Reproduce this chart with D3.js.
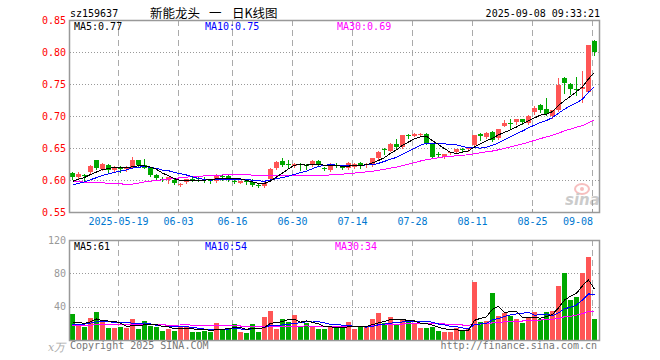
<!DOCTYPE html>
<html>
<head>
<meta charset="utf-8">
<script src="https://cdn.jsdelivr.net/npm/d3@7"></script>
<style>
body { margin: 0; background: #fff; }
text { font-family: "DejaVu Sans Mono", monospace; font-size: 10px; }
</style>
</head>
<body>
<script>
var dates = ["05-07","05-08","05-09","05-12","05-13","05-14","05-15","05-16","05-19","05-20",
  "05-21","05-22","05-23","05-26","05-27","05-28","05-29","05-30","06-03","06-04",
  "06-05","06-06","06-09","06-10","06-11","06-12","06-13","06-16","06-17","06-18",
  "06-19","06-20","06-23","06-24","06-25","06-26","06-27","06-30","07-01","07-02",
  "07-03","07-04","07-07","07-08","07-09","07-10","07-11","07-14","07-15","07-16",
  "07-17","07-18","07-21","07-22","07-23","07-24","07-25","07-28","07-29","07-30",
  "07-31","08-01","08-04","08-05","08-06","08-07","08-08","08-11","08-12","08-13",
  "08-14","08-15","08-18","08-19","08-20","08-21","08-22","08-25","08-26","08-27",
  "08-28","08-29","09-01","09-02","09-03","09-04","09-05","09-08"];

var open = [0.611,0.604,0.608,0.612,0.631,0.617,0.624,0.615,0.620,0.617,
  0.619,0.631,0.624,0.619,0.608,0.602,0.600,0.600,0.592,0.597,
  0.602,0.603,0.602,0.601,0.598,0.606,0.607,0.598,0.596,0.598,
  0.597,0.592,0.590,0.602,0.618,0.630,0.625,0.622,0.625,0.624,
  0.623,0.630,0.619,0.615,0.624,0.622,0.618,0.620,0.626,0.624,
  0.623,0.634,0.649,0.646,0.657,0.651,0.671,0.669,0.670,0.672,
  0.657,0.641,0.636,0.642,0.643,0.648,0.648,0.654,0.672,0.667,
  0.675,0.665,0.685,0.689,0.690,0.695,0.689,0.707,0.717,0.711,
  0.700,0.709,0.760,0.750,0.742,0.742,0.738,0.817];

var high = [0.613,0.612,0.609,0.623,0.632,0.626,0.625,0.622,0.622,0.622,
  0.636,0.632,0.633,0.620,0.609,0.604,0.605,0.601,0.595,0.602,
  0.605,0.604,0.605,0.602,0.610,0.609,0.608,0.600,0.599,0.601,
  0.602,0.593,0.597,0.618,0.630,0.635,0.631,0.626,0.626,0.625,
  0.632,0.631,0.621,0.626,0.627,0.623,0.628,0.626,0.628,0.626,
  0.635,0.645,0.650,0.658,0.664,0.671,0.672,0.673,0.674,0.674,
  0.658,0.643,0.641,0.644,0.649,0.650,0.651,0.671,0.673,0.675,
  0.676,0.680,0.693,0.695,0.696,0.696,0.701,0.715,0.718,0.728,
  0.710,0.759,0.761,0.752,0.761,0.771,0.811,0.818];

var low = [0.602,0.603,0.600,0.611,0.617,0.615,0.613,0.613,0.612,0.614,
  0.618,0.622,0.618,0.607,0.602,0.598,0.595,0.594,0.590,0.596,
  0.599,0.598,0.597,0.596,0.597,0.600,0.598,0.596,0.595,0.594,
  0.591,0.589,0.589,0.601,0.617,0.622,0.619,0.620,0.616,0.617,
  0.622,0.622,0.615,0.614,0.620,0.617,0.617,0.619,0.619,0.620,
  0.622,0.633,0.641,0.645,0.650,0.650,0.666,0.668,0.669,0.656,
  0.635,0.637,0.634,0.641,0.642,0.644,0.645,0.651,0.662,0.666,
  0.661,0.664,0.684,0.682,0.688,0.688,0.688,0.703,0.706,0.702,
  0.697,0.708,0.736,0.735,0.733,0.722,0.737,0.796];

var close = [0.604,0.610,0.607,0.622,0.619,0.625,0.615,0.620,0.617,0.620,
  0.631,0.623,0.619,0.608,0.603,0.600,0.604,0.595,0.594,0.601,
  0.601,0.602,0.601,0.598,0.607,0.605,0.601,0.597,0.598,0.597,
  0.592,0.590,0.596,0.617,0.628,0.623,0.623,0.625,0.623,0.622,
  0.630,0.623,0.617,0.624,0.623,0.618,0.626,0.625,0.624,0.625,
  0.634,0.644,0.648,0.657,0.652,0.670,0.670,0.672,0.672,0.657,
  0.636,0.640,0.640,0.643,0.648,0.647,0.650,0.670,0.668,0.673,
  0.663,0.679,0.689,0.688,0.695,0.690,0.700,0.712,0.710,0.703,
  0.709,0.748,0.751,0.742,0.741,0.745,0.811,0.800];

// volume in 万手
var volume = [31.2,18,16,26.8,34,22,14.8,14.8,16,14.8,
  24.8,13.6,23.2,16.8,15.2,11.2,12.8,11.2,16.8,16,
  10,10,11.2,10,20.8,12.8,12.8,19.2,10,9,
  19.2,10,27.2,35.2,13,24.8,22,30,16.8,20.8,
  16,13.6,13.6,15.2,14.8,14.8,22,12.8,16,16,
  25.2,32.8,20.8,28,18,24.8,24,19.2,15,15,
  16,11.2,10,10,14,11.2,12.8,70,22,23.2,
  57,28.8,33,28.8,25.2,20.8,26,34,24.8,34,
  35,64.8,80.8,48,52,80,100,25.2];

// sessions before the visible window, only used by the moving averages
var priorClose = [0.640,0.638,0.636,0.633,0.630,0.632,0.636,0.634,0.631,0.630,
  0.575,0.562,0.575,0.571,0.567,0.566,0.568,0.565,0.570,0.581,
  0.582,0.585,0.588,0.586,0.590,0.592,0.595,0.598,0.600];
var priorVolume = [16,17,15,16,14,17,18,16,15,16,
  30,24,18,15,14,14,13,14,14,14,
  16,17,15,18,19,18,20,18,17];

var priceTicks = [0.85,0.80,0.75,0.70,0.65,0.60,0.55];
var volTicks = [120,80,40];
var labelDates = ["05-19","06-03","06-16","06-30","07-14","07-28","08-11","08-25","09-08"];

var RED = "#ff5555", GREEN = "#00a800";
var left = 70, right = 599;
var pTop = 20, pBot = 212, vTop = 240, vBot = 340;

var svg = d3.select("body").append("svg")
  .attr("width", 660)
  .attr("height", 360);

var x = d3.scaleBand()
  .domain(d3.range(dates.length))
  .range([left, left + 6 * dates.length]);
var yP = d3.scaleLinear().domain([0.55, 0.85]).range([pBot, pTop]);
var yV = d3.scaleLinear().domain([0, 120]).range([vBot, vTop]);

function movingAvg(series, prior, n) {
  var all = prior.concat(series);
  return series.map(function(d, i) {
    var end = prior.length + i + 1;
    return d3.mean(all.slice(end - n, end));
  });
}

var data = dates.map(function(d, i) {
  return {i: i, o: open[i], h: high[i], l: low[i], c: close[i], v: volume[i],
    up: close[i] >= open[i]};
});

// grids
var gridIdx = labelDates.map(function(d) { return dates.indexOf(d); });

[[pTop, pBot], [vTop, vBot]].forEach(function(p) {
  svg.selectAll(null).data(gridIdx).enter().append("line")
    .attr("x1", d => x(d) + 0.5).attr("x2", d => x(d) + 0.5)
    .attr("y1", p[0]).attr("y2", p[1])
    .attr("stroke", "#aaa").attr("stroke-dasharray", "6,4")
    .attr("shape-rendering", "crispEdges");
});

svg.selectAll(null).data(priceTicks.slice(1, -1)).enter().append("line")
  .attr("x1", left).attr("x2", right)
  .attr("y1", d => Math.round(yP(d)) + 0.5).attr("y2", d => Math.round(yP(d)) + 0.5)
  .attr("stroke", "#999").attr("stroke-dasharray", "1,2")
  .attr("shape-rendering", "crispEdges");

svg.selectAll(null).data(volTicks.slice(1)).enter().append("line")
  .attr("x1", left).attr("x2", right)
  .attr("y1", d => Math.round(yV(d)) + 0.5).attr("y2", d => Math.round(yV(d)) + 0.5)
  .attr("stroke", "#999").attr("stroke-dasharray", "1,2")
  .attr("shape-rendering", "crispEdges");

// watermark
var wm = svg.append("g").attr("opacity", 0.5);
wm.append("ellipse").attr("cx", 582).attr("cy", 189).attr("rx", 7).attr("ry", 5)
  .attr("fill", "none").attr("stroke", "#f08080").attr("stroke-width", 2);
wm.append("circle").attr("cx", 582).attr("cy", 189).attr("r", 2).attr("fill", "#f08080");
wm.append("text").attr("x", 565).attr("y", 205)
  .style("font-family", "DejaVu Sans").style("font-size", "15px")
  .style("font-style", "italic").style("font-weight", "bold")
  .attr("fill", "#999").text("sina");

// candles
var cg = svg.append("g").attr("shape-rendering", "crispEdges");
cg.selectAll(".wick").data(data).enter().append("line")
  .attr("x1", d => x(d.i) + 2.5).attr("x2", d => x(d.i) + 2.5)
  .attr("y1", d => Math.round(yP(d.h))).attr("y2", d => Math.round(yP(d.l)) + 1)
  .attr("stroke", d => d.up ? RED : GREEN);
cg.selectAll(".body").data(data).enter().append("rect")
  .attr("x", d => x(d.i))
  .attr("width", 5)
  .attr("y", d => Math.round(yP(Math.max(d.o, d.c))))
  .attr("height", d => Math.max(1, Math.round(yP(Math.min(d.o, d.c))) - Math.round(yP(Math.max(d.o, d.c)))))
  .attr("fill", d => d.up ? RED : GREEN);

// volume bars
cg.selectAll(".vbar").data(data).enter().append("rect")
  .attr("x", d => x(d.i))
  .attr("width", 5)
  .attr("y", d => Math.round(yV(d.v)))
  .attr("height", d => vBot - Math.round(yV(d.v)))
  .attr("fill", d => d.up ? RED : GREEN);

// moving averages
var maColors = {5: "#000", 10: "#0000ff", 30: "#ff00ff"};
var priceMA = {}, volMA = {};
[30, 10, 5].forEach(function(n) {
  priceMA[n] = movingAvg(close, priorClose, n);
  volMA[n] = movingAvg(volume, priorVolume, n);
  svg.append("path")
    .datum(priceMA[n])
    .attr("d", d3.line().x((d, i) => x(i) + 2.5).y(d => yP(d)))
    .attr("fill", "none").attr("stroke", maColors[n]).attr("stroke-width", 1)
    .attr("shape-rendering", "crispEdges");
  svg.append("path")
    .datum(volMA[n])
    .attr("d", d3.line().x((d, i) => x(i) + 2.5).y(d => yV(d)))
    .attr("fill", "none").attr("stroke", maColors[n]).attr("stroke-width", 1)
    .attr("shape-rendering", "crispEdges");
});

// frames
[[pTop, pBot], [vTop, vBot]].forEach(function(p) {
  svg.append("rect")
    .attr("x", left - 0.5).attr("y", p[0] + 0.5)
    .attr("width", right - left + 1).attr("height", p[1] - p[0])
    .attr("fill", "none").attr("stroke", "#999").attr("stroke-width", 1.5);
});
svg.selectAll(null).data(gridIdx).enter().append("line")
  .attr("x1", d => x(d) + 0.5).attr("x2", d => x(d) + 0.5)
  .attr("y1", pBot - 3).attr("y2", pBot)
  .attr("stroke", "#999");

// axis labels
svg.selectAll(null).data(priceTicks).enter().append("text")
  .attr("x", 66).attr("y", d => yP(d) + 4)
  .attr("text-anchor", "end").attr("fill", "#f00")
  .text(d => d.toFixed(2));

svg.selectAll(null).data(volTicks).enter().append("text")
  .attr("x", 66).attr("y", d => yV(d) + 3.5)
  .attr("text-anchor", "end").attr("fill", "#999")
  .text(d => d);

svg.append("text").attr("x", 48).attr("y", 351)
  .style("font-family", "DejaVu Serif").style("font-style", "italic").style("font-size", "11px")
  .attr("fill", "#aaa").text("x万");

svg.selectAll(null).data(gridIdx).enter().append("text")
  .attr("x", (d, k) => k == gridIdx.length - 1 ? x(d) + 1 : x(d) + 0.5)
  .attr("y", 225)
  .attr("text-anchor", (d, k) => k == gridIdx.length - 1 ? "end" : "middle")
  .attr("fill", "#0078d0")
  .text((d, k) => k == 0 ? "2025-" + dates[d] : dates[d]);

// legends
var last = dates.length - 1;
var legendX = [74, 205, 337];
[5, 10, 30].forEach(function(n, k) {
  svg.append("text").attr("x", legendX[k]).attr("y", 30)
    .attr("fill", maColors[n]).text("MA" + n + ":" + priceMA[n][last].toFixed(2));
  svg.append("text").attr("x", legendX[k] - (k == 2 ? 2 : 0)).attr("y", 250)
    .attr("fill", maColors[n]).text("MA" + n + ":" + Math.round(volMA[n][last]));
});

// header
svg.append("text").attr("x", 70).attr("y", 17).attr("fill", "#000").text("sz159637");
var title = svg.append("text").attr("y", 17.5).attr("fill", "#000")
  .style("font-family", "'Noto Sans CJK SC'").style("font-size", "12.5px");
title.append("tspan").attr("x", 150).text("新能龙头");
title.append("tspan").attr("x", 209).text("一");
title.append("tspan").attr("x", 232).text("日K线图");
svg.append("text").attr("x", 600).attr("y", 17).attr("text-anchor", "end")
  .attr("fill", "#000").text("2025-09-08 09:33:21");

// footer
svg.append("text").attr("x", 70).attr("y", 349).attr("fill", "#777").text("Copyright 2025 SINA.COM");
svg.append("text").attr("x", 597).attr("y", 349).attr("text-anchor", "end")
  .attr("fill", "#777").text("http://finance.sina.com.cn");
</script>
</body>
</html>
